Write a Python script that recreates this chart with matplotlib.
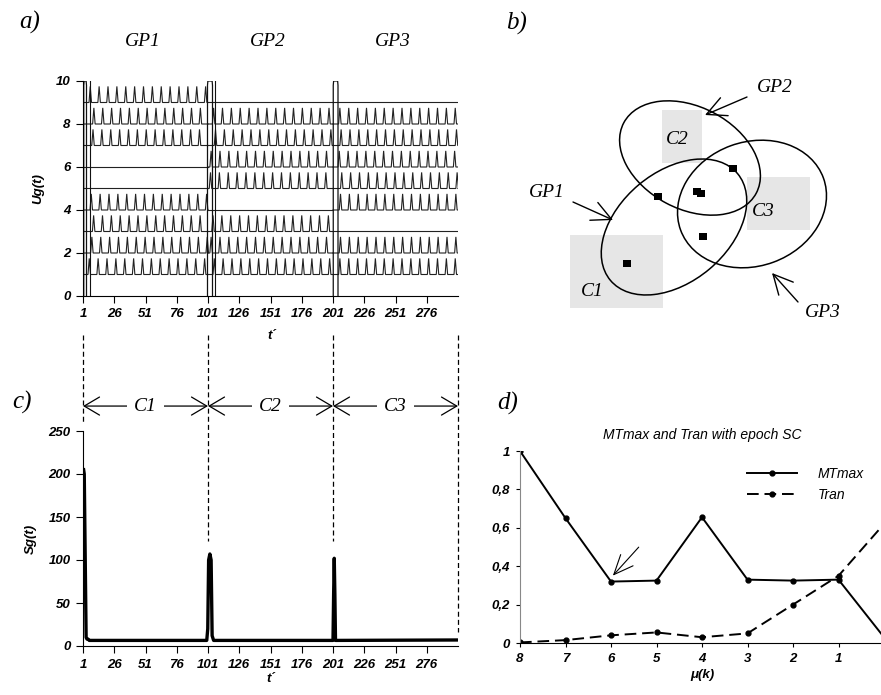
import matplotlib
matplotlib.use("Agg")
import matplotlib.pyplot as plt
from matplotlib.patches import Ellipse, Rectangle

plt.rcParams['font.family'] = ['Liberation Sans', 'DejaVu Sans']

# ---- panel a: neuron outputs Ug(t) ----
levels = [9, 8, 7, 6, 5, 4, 3, 2, 1]
group_start = [1, 101, 201]
group_end = [101, 201, 301]
# 1 = spiking in that group, 0 = silent
active = {9: [1, 0, 0], 8: [1, 1, 1], 7: [1, 1, 1], 6: [0, 1, 1], 5: [0, 1, 1],
          4: [1, 0, 1], 3: [1, 1, 0], 2: [1, 1, 1], 1: [1, 1, 1]}
# first spike time of each level in each group
first_spike = {9: [5.8, 0, 0], 8: [8.7, 104.5, 205.5], 7: [8.0, 106.0, 206.5],
               6: [0, 102.5, 205.0], 5: [0, 102.0, 207.0], 4: [6.6, 0, 206.0],
               3: [8.5, 104.0, 0], 2: [7.1, 102.5, 206.0], 1: [5.0, 105.0, 205.5]}
spike_period = 7.1
spike_height = 0.75
spike_width = 2.0
transient_loops = [(1.6, 3.8), (100.6, 104.6), (201.2, 205.0)]
transient_lines = [6.5, 106.5]
ticks_t = [1, 26, 51, 76, 101, 126, 151, 176, 201, 226, 251, 276]

# ---- panel c: Sg(t) ----
sg_t = [1.5, 2.0, 3.5, 4.2, 5.0, 6.0, 100.0, 100.8, 101.5, 102.5, 103.5, 104.3,
        105.5, 201.0, 201.5, 202.0, 202.5, 203.0, 301.0]
sg_v = [205, 200, 10, 8, 8, 6.5, 6.5, 20, 100, 107, 100, 12,
        6.5, 6.5, 60, 102, 60, 6.5, 7]
boundaries = [1, 101, 201, 301]
boundary_bottom = [260, 122, 122, 16]
cluster_names = ['C1', 'C2', 'C3']

# ---- panel d: MTmax and Tran ----
mu_k = [8, 7, 6, 5, 4, 3, 2, 1, 0]
mtmax = [1.0, 0.65, 0.32, 0.325, 0.655, 0.33, 0.325, 0.33, 0.03]
tran = [0.003, 0.015, 0.04, 0.055, 0.03, 0.05, 0.2, 0.35, 0.62]

# ---- panel b: diagram (pixel coordinates) ----
blobs = [  # name, centre x, centre y, width, height, angle
    ('GP1', 674, 227, 166, 110, -40),
    ('GP2', 690, 158, 150, 102, 28),
    ('GP3', 752, 204, 152, 124, -20),
]
shade_boxes = [(570, 235, 93, 73), (662, 110, 40, 53), (747, 177, 63, 53)]
cluster_pos = [(592, 292), (677, 140), (763, 212)]
members = [(658, 197), (697, 191), (701, 193), (733, 168), (703, 237), (627, 264)]
gp_labels = [('GP1', 547, 193, 573, 202, 613, 220),
             ('GP2', 775, 87, 747, 97, 705, 115),
             ('GP3', 823, 313, 798, 302, 772, 273)]

W, H = 881, 695
fig = plt.figure(figsize=(W / 100, H / 100), dpi=100)


def frac(x0, y0, x1, y1):
    return [x0 / W, 1 - y1 / H, (x1 - x0) / W, (y1 - y0) / H]


tick_font = dict(fontsize=9.5, fontweight='bold', fontstyle='italic')
serif = dict(family=['Liberation Serif', 'DejaVu Serif'], fontstyle='italic')


def style_axes(ax):
    for s in ['top', 'right']:
        ax.spines[s].set_visible(False)
    ax.tick_params(direction='out', length=5, width=0.8, pad=4)
    for lab in ax.get_xticklabels() + ax.get_yticklabels():
        lab.set_fontweight('bold')
        lab.set_fontstyle('italic')
        lab.set_fontsize(9.5)


# panel a
ax_a = fig.add_axes(frac(83, 81, 458, 296))
for lv in levels:
    for g in range(3):
        t0, t1 = group_start[g], group_end[g]
        xs, ys = [t0], [lv]
        if active[lv][g]:
            s = first_spike[lv][g]
            while s + spike_width <= t1 + 0.5:
                xs += [s, s + spike_width / 2, s + spike_width]
                ys += [lv, lv + spike_height, lv]
                s += spike_period
        xs.append(t1)
        ys.append(lv)
        ax_a.plot(xs, ys, color='#222222', lw=0.8, solid_joinstyle='miter')
for a, b in transient_loops:
    ax_a.plot([a, a, a + 0.3, b - 0.3, b, b], [0, 9.8, 10, 10, 9.8, 0],
              color='#111111', lw=0.9)
for x in transient_lines:
    ax_a.plot([x, x], [0, 10], color='#111111', lw=0.8)
ax_a.set_xlim(1, 301)
ax_a.set_ylim(0, 10)
ax_a.set_xticks(ticks_t)
ax_a.set_yticks([0, 2, 4, 6, 8, 10])
ax_a.set_ylabel('Ug(t)', fontsize=9.5, fontweight='bold', fontstyle='italic', labelpad=8)
style_axes(ax_a)
for i, name in enumerate(['GP1', 'GP2', 'GP3']):
    ax_a.text((group_start[i] + group_end[i]) / 2 - 2.5, 11.85, name, ha='center',
              va='center', fontsize=14, **serif)
ax_a.text(152, -1.85, 't´', ha='center', va='center', **tick_font)

# panel c
ax_c = fig.add_axes(frac(83, 431, 458, 646))
ax_c.plot(sg_t, sg_v, color='black', lw=2.4, solid_joinstyle='round')
ax_c.set_xlim(1, 301)
ax_c.set_ylim(0, 250)
ax_c.set_xticks(ticks_t)
ax_c.set_yticks([0, 50, 100, 150, 200, 250])
ax_c.set_ylabel('Sg(t)', fontsize=9.5, fontweight='bold', fontstyle='italic', labelpad=8)
ax_c.set_xlabel('t´', fontsize=9.5, fontweight='bold', fontstyle='italic', labelpad=2)
style_axes(ax_c)
for x, yb in zip(boundaries, boundary_bottom):
    ax_c.plot([x, x], [362, yb], color='black', lw=0.9, ls=(0, (4, 2.5)), clip_on=False)
row_y = 279
for i in range(3):
    ax_c.annotate('', xy=(boundaries[i], row_y), xytext=(boundaries[i + 1], row_y),
                  arrowprops=dict(arrowstyle='<->,head_length=1.1,head_width=0.65',
                                  color='black', lw=0.9, mutation_scale=10,
                                  shrinkA=0, shrinkB=0),
                  annotation_clip=False)
    ax_c.text((boundaries[i] + boundaries[i + 1]) / 2, row_y, cluster_names[i],
              ha='center', va='center', fontsize=14, clip_on=False,
              bbox=dict(fc='white', ec='none', pad=5), **serif)

# panel d
ax_d = fig.add_axes(frac(520, 451, 884, 643))
ax_d.plot(mu_k, mtmax, color='black', lw=1.4, marker='o', ms=3.5, label='MTmax')
ax_d.plot(mu_k, tran, color='black', lw=1.4, ls=(0, (6, 3)), marker='o', ms=3.5,
          label='Tran')
ax_d.set_xlim(8, 0)
ax_d.set_ylim(0, 1)
ax_d.set_xticks(mu_k)
ax_d.set_yticks([0, 0.2, 0.4, 0.6, 0.8, 1.0])
ax_d.set_yticklabels(['0', '0,2', '0,4', '0,6', '0,8', '1'])
ax_d.spines['left'].set_color('#888888')
style_axes(ax_d)
ax_d.tick_params(length=3)
ax_d.set_xlabel('μ(k)', fontsize=9.5, fontweight='bold', fontstyle='italic', labelpad=3)
ax_d.set_title('MTmax and Tran with epoch SC', fontsize=10, fontstyle='italic', pad=9)
ax_d.legend(loc='upper right', bbox_to_anchor=(0.98, 0.98), frameon=False,
            handlelength=3.6, prop=dict(style='italic', size=10),
            handletextpad=1.5, labelspacing=0.5)
ax_d.annotate('', xy=(6.0, 0.34), xytext=(5.35, 0.51),
              arrowprops=dict(arrowstyle='->,head_length=1.4,head_width=0.6',
                              color='black', lw=0.8, mutation_scale=10))

# panel b
ax_b = fig.add_axes(frac(470, 0, 881, 330))
ax_b.set_xlim(470, 881)
ax_b.set_ylim(330, 0)
ax_b.axis('off')
for x, y, w, h in shade_boxes:
    ax_b.add_patch(Rectangle((x, y), w, h, fc='#e6e6e6', ec='none', zorder=1))
for name, cx, cy, w, h, ang in blobs:
    ax_b.add_patch(Ellipse((cx, cy), w, h, angle=ang, fill=False, ec='black',
                           lw=1.1, zorder=2))
for (x, y), name in zip(cluster_pos, cluster_names):
    ax_b.text(x, y, name, ha='center', va='center', fontsize=14, zorder=3, **serif)
for x, y in members:
    ax_b.add_patch(Rectangle((x - 4, y - 3.5), 8, 7, fc='black', ec='none', zorder=3))
for name, tx, ty, x0, y0, x1, y1 in gp_labels:
    ax_b.text(tx, ty, name, ha='center', va='center', fontsize=14, **serif)
    ax_b.annotate('', xy=(x1, y1), xytext=(x0, y0),
                  arrowprops=dict(arrowstyle='->,head_length=1.4,head_width=0.7',
                                  color='black', lw=1.0, mutation_scale=10,
                                  shrinkA=0, shrinkB=0))

# panel letters
for lab, x, y in [('a)', 30, 22), ('b)', 517, 23), ('c)', 22, 402), ('d)', 508, 403)]:
    fig.text(x / W, 1 - y / H, lab, ha='center', va='center', fontsize=18, **serif)

fig.savefig('out.png', dpi=100)
